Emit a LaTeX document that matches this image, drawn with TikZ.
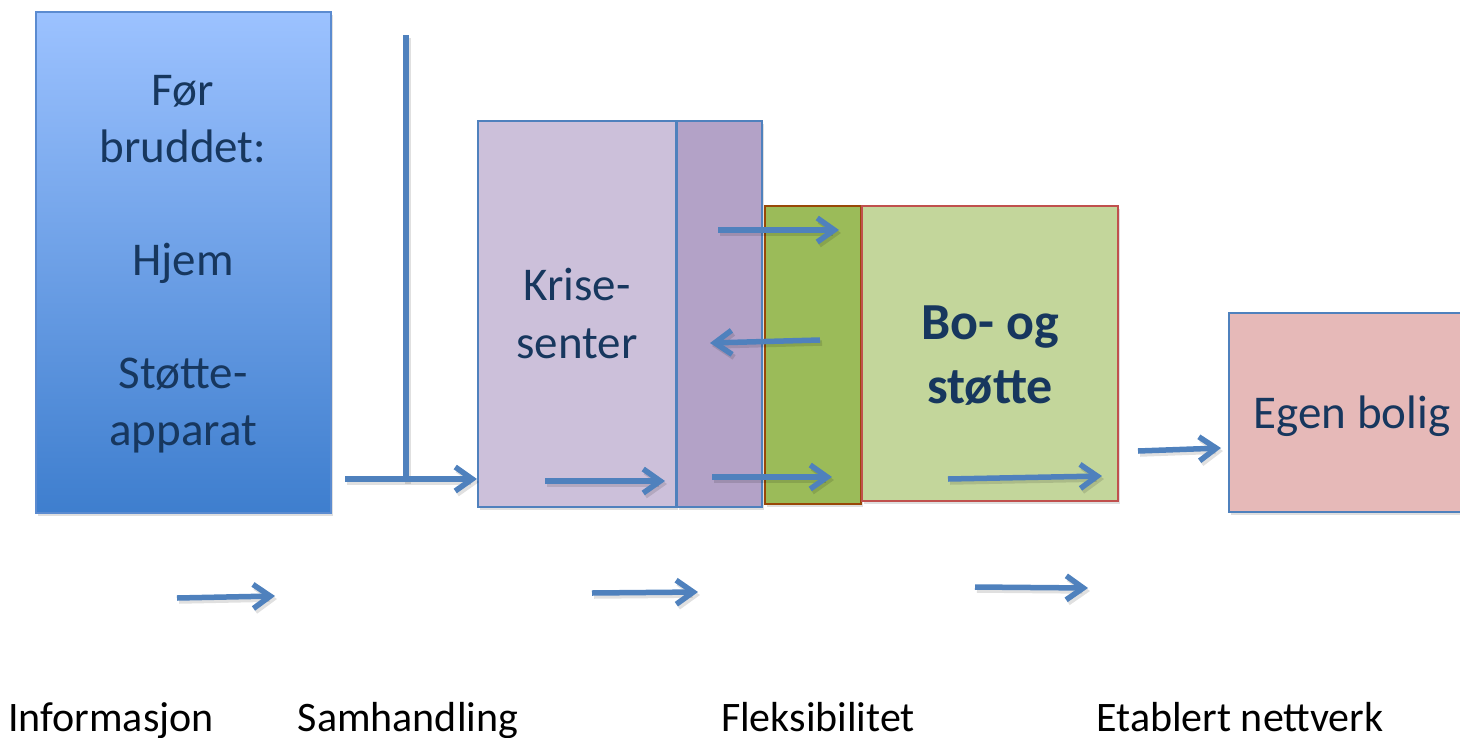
\documentclass[tikz,border=0pt]{standalone}
\usepackage{fontspec}
\setmainfont{Carlito}
\usetikzlibrary{arrows.meta,shadows}
\definecolor{txt}{HTML}{17375E}
\definecolor{arrc}{HTML}{4F81BD}
\definecolor{bluetop}{HTML}{9CC2FF}
\definecolor{bluebot}{HTML}{3E7ECE}
\definecolor{blueedge}{HTML}{5B8BD0}
\definecolor{lilac}{HTML}{CCC0DA}
\definecolor{purple2}{HTML}{B3A2C7}
\definecolor{dgreen}{HTML}{9BBB59}
\definecolor{lgreen}{HTML}{C3D69B}
\definecolor{pink}{HTML}{E6B9B8}
\definecolor{brownedge}{HTML}{984807}
\definecolor{rededge}{HTML}{C0504D}
\begin{document}
\begin{tikzpicture}[x=1pt,y=-1pt,
  box/.style={anchor=north west,inner sep=0pt,outer sep=0pt,line width=1.5pt,
    drop shadow={shadow xshift=2pt,shadow yshift=-3pt,opacity=0.25}},
  arrtip/.style={-{Straight Barb[length=17pt,width=24pt,line width=5.5pt]}},
  arr/.style={draw=arrc,line width=5.5pt,arrtip},
  arrsh/.style={draw=black,opacity=0.12,line width=5.5pt,arrtip,transform canvas={shift={(2pt,-3pt)}}},
  lbl/.style={text=txt,anchor=base,inner sep=0pt,font=\fontsize{47}{57}\selectfont},
  blbl/.style={text=txt,anchor=base,inner sep=0pt,font=\fontsize{52}{63}\selectfont\bfseries},
  bot/.style={text=black,anchor=base,inner sep=0pt,font=\fontsize{42}{50}\selectfont}]
\useasboundingbox (0,0) rectangle (1460,737);
\clip (0,0) rectangle (1460,737);
% boxes
\node[box,draw=blueedge,top color=bluetop,bottom color=bluebot,minimum width=295pt,minimum height=501pt] (blue) at (36,12) {};
\node[box,draw=arrc,fill=lilac,minimum width=198pt,minimum height=386pt] (krise) at (478,121) {};
\node[box,draw=arrc,fill=purple2,minimum width=85pt,minimum height=386pt] (krise2) at (677,121) {};
\node[box,draw=brownedge,fill=dgreen,minimum width=96pt,minimum height=298pt] (bo1) at (765,206) {};
\node[box,draw=rededge,fill=lgreen,minimum width=256pt,minimum height=295pt] (bo2) at (862,206) {};
\node[box,draw=arrc,fill=pink,minimum width=250pt,minimum height=199pt] (egen) at (1229,313) {};
% texts
\node[lbl] (t1) at (183,105) {Før};
\node[lbl] (t2) at (183,162) {bruddet:};
\node[lbl] (t3) at (183,275) {Hjem};
\node[lbl] (t4) at (183,388) {Støtte-};
\node[lbl] (t5) at (183,445) {apparat};
\node[lbl] (k1) at (577,300) {Krise-};
\node[lbl] (k2) at (577,358) {senter};
\node[blbl] (b1) at (990,339) {Bo- og};
\node[blbl] (b2) at (990,403) {støtte};
\node[lbl] (e1) at (1352,428) {Egen bolig};
\node[bot] (l1) at (111,731) {Informasjon};
\node[bot] (l2) at (408,731) {Samhandling};
\node[bot] (l3) at (818,731) {Fleksibilitet};
\node[bot] (l4) at (1240,731) {Etablert nettverk};
% coordinates
\coordinate (v1) at (406,35);
\coordinate (v2) at (406,481);
\coordinate (a1s) at (345,479); \coordinate (a1e) at (477,479);
\coordinate (a2s) at (545,481); \coordinate (a2e) at (665,481);
\coordinate (a3s) at (718,230); \coordinate (a3e) at (839,230);
\coordinate (a4s) at (820,340); \coordinate (a4e) at (710,343);
\coordinate (a5s) at (712,477); \coordinate (a5e) at (832,477);
\coordinate (a6s) at (948,479); \coordinate (a6e) at (1102,476);
\coordinate (a7s) at (1138,451); \coordinate (a7e) at (1221,448);
\coordinate (a8s) at (177,598); \coordinate (a8e) at (275,596);
\coordinate (a9s) at (592,593); \coordinate (a9e) at (698,592);
\coordinate (a10s) at (975,587); \coordinate (a10e) at (1088,588);
% connectors
\draw[draw=black,opacity=0.12,line width=5.5pt,transform canvas={shift={(2pt,-3pt)}}] (v1) -- (v2);
\draw[draw=arrc,line width=5.5pt] (v1) -- (v2);
\foreach \i in {1,...,10} {\draw[arrsh] (a\i s) -- (a\i e);\draw[arr] (a\i s) -- (a\i e);}
\end{tikzpicture}
\end{document}
